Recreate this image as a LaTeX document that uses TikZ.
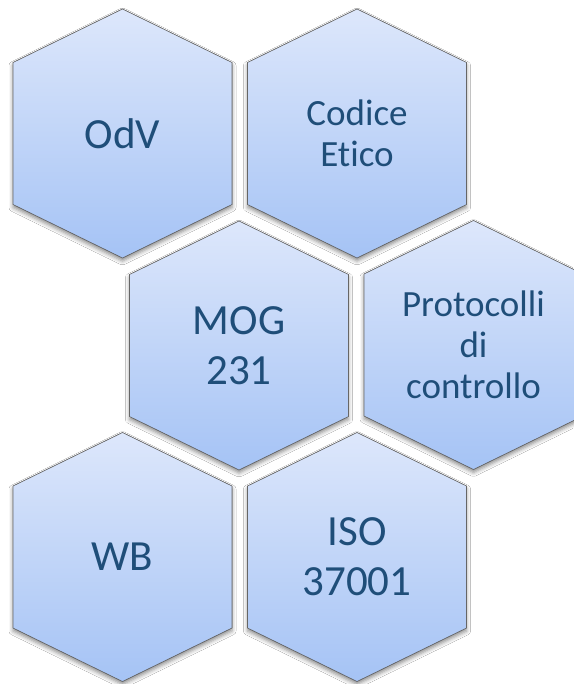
\documentclass[tikz,border=0pt]{standalone}
\usepackage{fontspec}
\setmainfont[Ligatures=NoCommon]{Carlito}
\usepackage{xcolor}
\usetikzlibrary{shadows.blur}

\definecolor{hextop}{HTML}{DDE7FB}
\definecolor{hexbot}{HTML}{A5C3F5}
\definecolor{hextext}{HTML}{1F4E79}

% un esagono: nome, centro x, centro y, testo
\newcommand{\hexa}[5][hexbig]{%
    \filldraw[hexa] (#3,#4-124.5) -- ++(109.5,53.5) -- ++(0,142) -- ++(-109.5,53.5)
        -- ++(-109.5,-53.5) -- ++(0,-142) -- cycle;
    \node[#1] (#2) at (#3,#4) {#5};
}

\begin{document}
\begin{tikzpicture}[x=1pt,y=-1pt,
    hexa/.style={draw=black!60, line width=0.6pt, top color=hextop, bottom color=hexbot,
        blur shadow={shadow xshift=0pt, shadow yshift=-3pt, shadow blur radius=4pt, shadow opacity=45}},
    hexbig/.style={text=hextext, align=center, font=\fontsize{43}{50}\selectfont},
    hexsmall/.style={text=hextext, align=center, font=\fontsize{37}{41}\selectfont}]
    % fond blanc
    \useasboundingbox[fill=white] (0,0) rectangle (573,684);
    % rangée du haut
    \hexa{odv}{122.5}{133.5}{OdV}
    \hexa[hexsmall]{codice}{357}{133.5}{Codice\\Etico}
    % rangée du milieu
    \hexa{mog}{239}{345.5}{MOG\\231}
    \hexa[hexsmall]{protocolli}{473.5}{345}{Protocolli\\di\\controllo}
    % rangée du bas
    \hexa{wb}{122.5}{557}{WB}
    \hexa{iso}{357}{557}{ISO\\37001}
\end{tikzpicture}
\end{document}
